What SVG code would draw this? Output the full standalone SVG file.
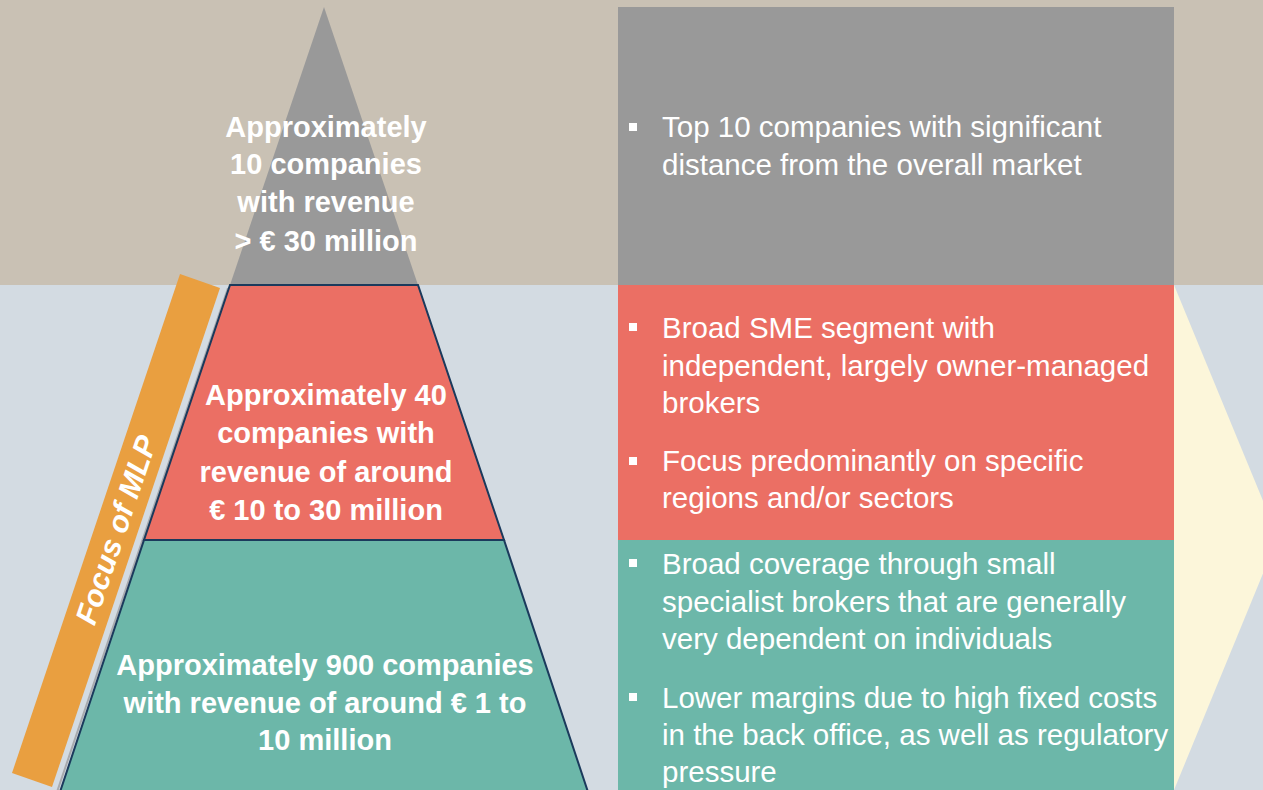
<svg xmlns="http://www.w3.org/2000/svg" width="1263" height="790" viewBox="0 0 1263 790">
  <style>
    .pt { font-family: "Liberation Sans", Arial, sans-serif; font-weight: bold; font-size: 29px; fill: #ffffff; text-anchor: middle; }
    .bt { font-family: "Liberation Sans", Arial, sans-serif; font-size: 29.5px; fill: #ffffff; }
    .bul { fill: #ffffff; }
    .tier { stroke: #1B3A5C; stroke-width: 2; stroke-linejoin: miter; }
  </style>
  <g id="background">
    <rect x="0" y="0" width="1263" height="285" fill="#C9C1B4"/>
    <rect x="0" y="285" width="1263" height="505" fill="#D3DBE2"/>
  </g>
  <g id="arrow">
    <polygon points="1174,285 1278,537 1174,790" fill="#FCF6DA"/>
  </g>
  <g id="pyramid-shadow">
    <line x1="228" y1="288" x2="57" y2="792" stroke="#A8AAAE" stroke-width="2"/>
  </g>
  <g id="tier-top">
    <polygon points="324,7 418,285 230,285" fill="#999999"/>
    <text class="pt" x="326" y="137">Approximately</text>
    <text class="pt" x="326" y="174">10 companies</text>
    <text class="pt" x="326" y="212">with revenue</text>
    <text class="pt" x="326" y="251">&gt; € 30 million</text>
  </g>
  <g id="tier-middle">
    <polygon class="tier" points="230,285 418,285 504,540 144,540" fill="#EB6F64"/>
    <text class="pt" x="326" y="405">Approximately 40</text>
    <text class="pt" x="326" y="443">companies with</text>
    <text class="pt" x="326" y="482">revenue of around</text>
    <text class="pt" x="326" y="520">€ 10 to 30 million</text>
  </g>
  <g id="tier-bottom">
    <polygon class="tier" points="144,540 504,540 589,795 59,795" fill="#6CB7A9"/>
    <text class="pt" x="325" y="675">Approximately 900 companies</text>
    <text class="pt" x="325" y="713">with revenue of around € 1 to</text>
    <text class="pt" x="325" y="750">10 million</text>
  </g>
  <g id="focus-bar">
    <polygon points="180,274 220,288 52,787 12,773" fill="#E99F40"/>
    <text transform="translate(116,530) rotate(-71.4)" x="0" y="10.5" font-family="Liberation Sans, Arial, sans-serif" font-weight="bold" font-style="italic" font-size="30" fill="#ffffff" text-anchor="middle">Focus of MLP</text>
  </g>
  <g id="panel-top">
    <rect x="618" y="7" width="556" height="278" fill="#999999"/>
    <rect class="bul" x="629" y="123" width="8" height="8"/>
    <text class="bt" x="662" y="137">Top 10 companies with significant</text>
    <text class="bt" x="662" y="175">distance from the overall market</text>
  </g>
  <g id="panel-middle">
    <rect x="618" y="285" width="556" height="255" fill="#EB6F64"/>
    <rect class="bul" x="629" y="323" width="8" height="8"/>
    <text class="bt" x="662" y="338">Broad SME segment with</text>
    <text class="bt" x="662" y="376">independent, largely owner-managed</text>
    <text class="bt" x="662" y="413">brokers</text>
    <rect class="bul" x="629" y="457" width="8" height="8"/>
    <text class="bt" x="662" y="471">Focus predominantly on specific</text>
    <text class="bt" x="662" y="508">regions and/or sectors</text>
  </g>
  <g id="panel-bottom">
    <rect x="618" y="540" width="556" height="250" fill="#6CB7A9"/>
    <rect class="bul" x="629" y="559" width="8" height="8"/>
    <text class="bt" x="662" y="574">Broad coverage through small</text>
    <text class="bt" x="662" y="612">specialist brokers that are generally</text>
    <text class="bt" x="662" y="649">very dependent on individuals</text>
    <rect class="bul" x="629" y="693" width="8" height="8"/>
    <text class="bt" x="662" y="708">Lower margins due to high fixed costs</text>
    <text class="bt" x="662" y="745">in the back office, as well as regulatory</text>
    <text class="bt" x="662" y="782">pressure</text>
  </g>
  <g id="connectors"></g>
</svg>
